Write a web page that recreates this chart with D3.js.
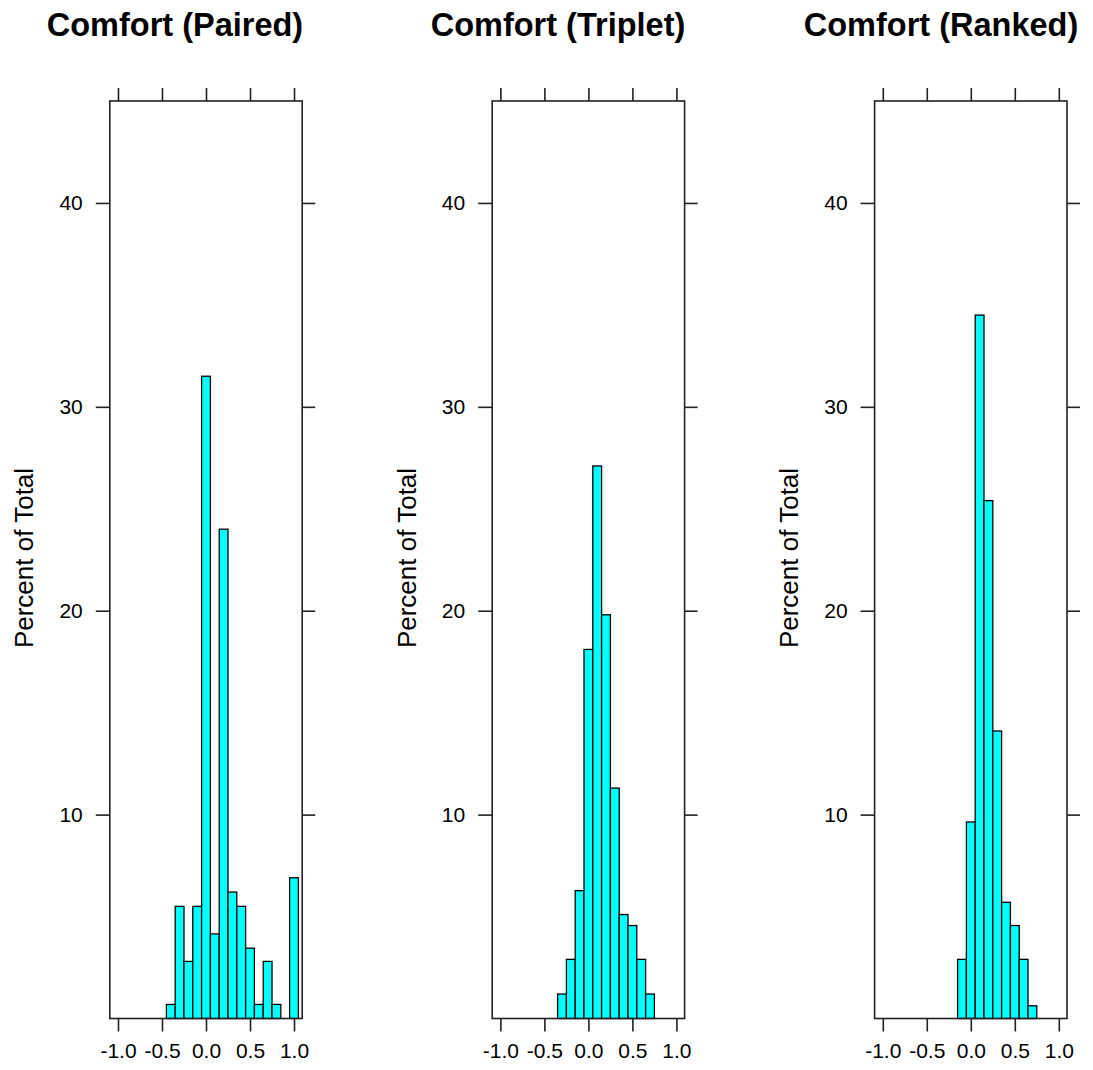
<!DOCTYPE html>
<html>
<head>
<meta charset="utf-8">
<script src="https://cdn.jsdelivr.net/npm/d3@7"></script>
<style>
  html, body { margin: 0; padding: 0; background: #fff; }
  svg { display: block; }
  text { font-family: "Liberation Sans", Arial, Helvetica, sans-serif; fill: #000; }
</style>
</head>
<body>
<svg id="chart" width="1093" height="1070"></svg>
<script>
// ---- data ----
const panelTitles = ["Comfort (Paired)", "Comfort (Triplet)", "Comfort (Ranked)"];
const pairedCenters  = [-0.4, -0.3, -0.2, -0.1, 0.0, 0.1, 0.2, 0.3, 0.4, 0.5, 0.6, 0.7, 0.8, 0.9, 1.0];
const pairedPercent  = [0.69, 5.5, 2.8, 5.5, 31.5, 4.15, 24.0, 6.2, 5.5, 3.45, 0.69, 2.8, 0.69, 0, 6.9];
const tripletCenters = [-0.3, -0.2, -0.1, 0.0, 0.1, 0.2, 0.3, 0.4, 0.5, 0.6, 0.7];
const tripletPercent = [1.2, 2.9, 6.27, 18.1, 27.1, 19.8, 11.3, 5.1, 4.56, 2.9, 1.2];
const rankedCenters  = [-0.1, 0.0, 0.1, 0.2, 0.3, 0.4, 0.5, 0.6, 0.7];
const rankedPercent  = [2.9, 9.64, 34.5, 25.4, 14.1, 5.7, 4.56, 2.9, 0.62];
const binWidth = 0.1;
const xTicks = [-1.0, -0.5, 0.0, 0.5, 1.0];
const xTickLabels = ["-1.0", "-0.5", "0.0", "0.5", "1.0"];
const yTicks = [10, 20, 30, 40];
const yLabel = "Percent of Total";

const panels = [
  { title: panelTitles[0], centers: pairedCenters, values: pairedPercent },
  { title: panelTitles[1], centers: tripletCenters, values: tripletPercent },
  { title: panelTitles[2], centers: rankedCenters, values: rankedPercent }
];

// ---- layout ----
const svg = d3.select("#chart");
const boxW = 192.4, boxTop = 101, boxBottom = 1018.5;
const panelStep = 382.4, firstLeft = 109.8;

const y = d3.scaleLinear().domain([0, 45]).range([boxBottom, boxTop]);

panels.forEach((p, i) => {
  const left = firstLeft + i * panelStep;
  const x = d3.scaleLinear().domain([-1.093, 1.093]).range([left, left + boxW]);
  const g = svg.append("g");

  // bars
  const bins = p.centers.map((c, k) => ({ c, v: p.values[k] })).filter(d => d.v > 0);
  g.selectAll("rect.bar").data(bins).enter().append("rect")
    .attr("class", "bar")
    .attr("x", d => x(d.c - binWidth / 2))
    .attr("width", d => x(d.c + binWidth / 2) - x(d.c - binWidth / 2))
    .attr("y", d => y(d.v))
    .attr("height", d => y(0) - y(d.v))
    .attr("fill", "#00FFFF")
    .attr("stroke", "#000")
    .attr("stroke-width", 1.3);

  // axes
  const axStyle = sel => {
    sel.select(".domain").remove();
    sel.selectAll(".tick line").attr("stroke", "#222").attr("stroke-width", 1.6);
    sel.selectAll("text").style("font-family", '"Liberation Sans", Arial, Helvetica, sans-serif')
      .style("font-size", "21px").attr("fill", "#000");
  };
  g.append("g").attr("transform", `translate(0,${boxBottom})`)
    .call(d3.axisBottom(x).tickValues(xTicks).tickFormat((d, k) => xTickLabels[k]).tickSize(13).tickPadding(12))
    .call(axStyle);
  g.append("g").attr("transform", `translate(0,${boxTop})`)
    .call(d3.axisTop(x).tickValues(xTicks).tickFormat("").tickSize(13))
    .call(axStyle);
  g.append("g").attr("transform", `translate(${left},0)`)
    .call(d3.axisLeft(y).tickValues(yTicks).tickFormat(d3.format("d")).tickSize(14).tickPadding(13))
    .call(axStyle);
  g.append("g").attr("transform", `translate(${left + boxW},0)`)
    .call(d3.axisRight(y).tickValues(yTicks).tickFormat("").tickSize(13))
    .call(axStyle);

  // box
  g.append("rect")
    .attr("x", left).attr("y", boxTop)
    .attr("width", boxW).attr("height", boxBottom - boxTop)
    .attr("fill", "none").attr("stroke", "#222").attr("stroke-width", 1.6);

  // title
  svg.append("text")
    .attr("x", 175 + i * 383).attr("y", 36)
    .attr("text-anchor", "middle")
    .style("font-size", "32.5px").style("font-weight", "bold")
    .text(p.title);

  // y label
  svg.append("text")
    .attr("transform", `translate(${33.3 + i * panelStep},558) rotate(-90)`)
    .attr("text-anchor", "middle")
    .style("font-size", "26px")
    .text(yLabel);
});
</script>
</body>
</html>
